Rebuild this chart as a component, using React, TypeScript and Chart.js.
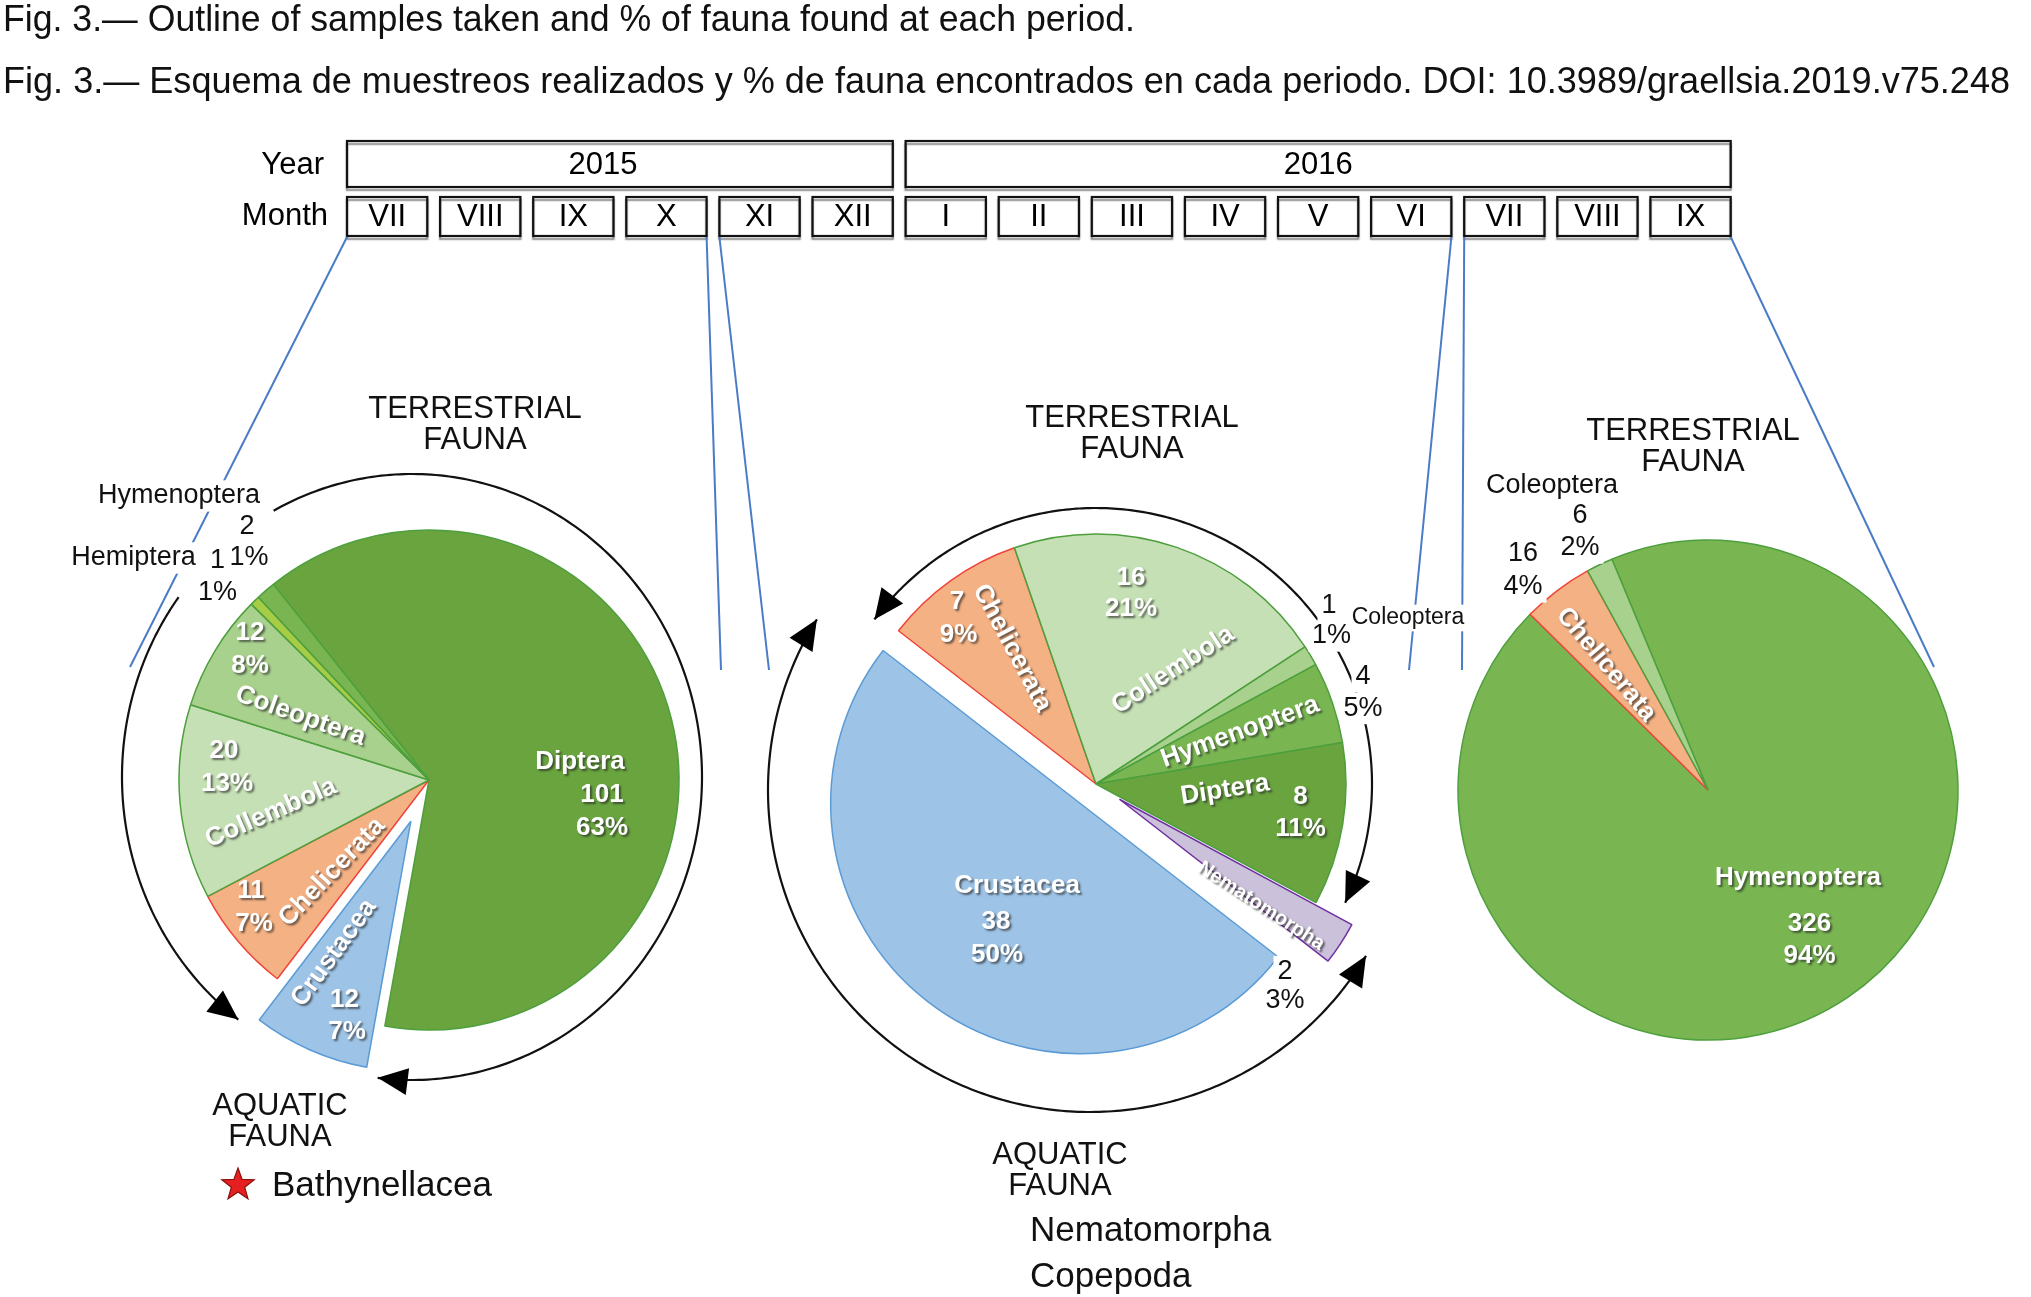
import React, { useEffect, useRef } from 'react';
import { Chart, registerables } from 'chart.js';

Chart.register(...registerables);

const W = 2031;
const H = 1297;
const FONT = '"Liberation Sans", Arial, Helvetica, sans-serif';
const DEG = Math.PI / 180;

// ---------------- data ----------------
const titleEn = 'Fig. 3.— Outline of samples taken and % of fauna found at each period.';
const titleEs = 'Fig. 3.— Esquema de muestreos realizados y % de fauna encontrados en cada periodo. DOI: 10.3989/graellsia.2019.v75.248';

const years = ['2015', '2016'];
const monthsPerYear = [6, 9];
const months = ['VII', 'VIII', 'IX', 'X', 'XI', 'XII', 'I', 'II', 'III', 'IV', 'V', 'VI', 'VII', 'VIII', 'IX'];

// Pie 1 : July 2015 - October 2015
const p1Labels = ['Diptera', 'Crustacea', 'Chelicerata', 'Collembola', 'Coleoptera', 'Hemiptera', 'Hymenoptera'];
const p1Values = [101, 12, 11, 20, 12, 1, 2];
const p1Pcts = ['63%', '7%', '7%', '13%', '8%', '1%', '1%'];

// Pie 2 : November 2015 - June 2016
const p2Labels = ['Chelicerata', 'Collembola', 'Coleoptera', 'Hymenoptera', 'Diptera', 'Nematomorpha', 'Crustacea'];
const p2Values = [7, 16, 1, 4, 8, 2, 38];
const p2Pcts = ['9%', '21%', '1%', '5%', '11%', '3%', '50%'];

// Pie 3 : July 2016 - September 2016
const p3Labels = ['Hymenoptera', 'Chelicerata', 'Coleoptera'];
const p3Values = [326, 16, 6];
const p3Pcts = ['94%', '4%', '2%'];

const terrestrialText = ['TERRESTRIAL', 'FAUNA'];
const aquaticText = ['AQUATIC', 'FAUNA'];
const aquatic2015 = ['Bathynellacea'];
const aquatic2016 = ['Nematomorpha', 'Copepoda'];

// ---------------- styles ----------------
const taxonFill: Record<string, string> = {
  Diptera: '#69a43f',
  Hymenoptera: '#79b652',
  Hemiptera: '#a6cd45',
  Coleoptera: '#a9d18e',
  Collembola: '#c5e0b4',
  Chelicerata: '#f4b183',
  Crustacea: '#9dc3e6',
  Nematomorpha: '#ccc1da',
};
const taxonBorder: Record<string, string> = {
  Diptera: '#4e9f3d',
  Hymenoptera: '#4e9f3d',
  Hemiptera: '#4e9f3d',
  Coleoptera: '#4e9f3d',
  Collembola: '#4e9f3d',
  Chelicerata: '#f0443a',
  Crustacea: '#5b9bd5',
  Nematomorpha: '#7030a0',
};

const R = 250;

type Lbl = [number, 'n' | 'v' | 'p', number, number, number?, number?];

interface PieLayout {
  labels: string[];
  values: number[];
  pcts: string[];
  cx: number;
  cy: number;
  rotation: number;
  explode: number[];
  grow: number[];
  inner: Lbl[];
  outer: Lbl[];
  terrestrial: [number, number];
  aquatic?: [number, number];
  aquaticList?: { items: string[]; dx: number; dy: number; star?: boolean };
  arrows: { cx: number; cy: number; rx: number; ry: number; a0: number; a1: number; h0: boolean; h1: boolean }[];
}

const pies: PieLayout[] = [
  {
    labels: p1Labels, values: p1Values, pcts: p1Pcts,
    cx: 429, cy: 780, rotation: -38.5,
    explode: [0, 45, 0, 0, 0, 0, 0],
    grow: [0, 0, 0, 0, 0, 0, 0],
    inner: [
      [0, 'n', 151, -18], [0, 'v', 173, 15], [0, 'p', 173, 48],
      [1, 'n', -95, 173, -54], [1, 'v', -84.5, 220], [1, 'p', -82, 252],
      [2, 'n', -97, 92, -46], [2, 'v', -178, 111], [2, 'p', -175, 143.5],
      [3, 'n', -158, 33, -23.5], [3, 'v', -205, -29], [3, 'p', -202, 4],
      [4, 'n', -128.5, -64, 19.5], [4, 'v', -179, -147], [4, 'p', -179, -114],
    ],
    outer: [
      [6, 'n', -250, -284], [6, 'v', -182, -253], [6, 'p', -180, -222],
      [5, 'n', -295.6, -222], [5, 'v', -211.4, -219], [5, 'p', -211.4, -187],
    ],
    terrestrial: [46, -371],
    aquatic: [-149, 326],
    aquaticList: { items: aquatic2015, dx: -157, dy: 406, star: true },
    arrows: [
      { cx: -17, cy: -3, rx: 290, ry: 303, a0: -118.5, a1: 96.8, h0: false, h1: true },
      { cx: -17, cy: -3, rx: 290, ry: 303, a0: 216.4, a1: 126.8, h0: false, h1: true },
    ],
  },
  {
    labels: p2Labels, values: p2Values, pcts: p2Pcts,
    cx: 1096, cy: 784, rotation: -52.2,
    explode: [0, 0, 0, 0, 0, 28, 25],
    grow: [0, 0, 0, 0, 0, 14, 0],
    inner: [
      [0, 'v', -139, -182], [0, 'p', -137.5, -149], [0, 'n', -84, -136, 62],
      [1, 'v', 35, -206], [1, 'p', 35, -175], [1, 'n', 77, -114, -33],
      [3, 'n', 144, -52, -20],
      [4, 'n', 129, 6, -9], [4, 'v', 204.5, 12.6], [4, 'p', 204.5, 45],
      [6, 'n', -79, 102], [6, 'v', -100, 138], [6, 'p', -99, 171],
      [5, 'n', 165, 122, 33, 20],
    ],
    outer: [
      [2, 'v', 233, -178], [2, 'p', 235.6, -148], [2, 'n', 312, -166, 0, 23],
      [3, 'v', 267, -107], [3, 'p', 267, -75.5],
      [5, 'v', 189, 187.5], [5, 'p', 189, 217],
    ],
    terrestrial: [36, -366],
    aquatic: [-36, 371],
    aquaticList: { items: aquatic2016, dx: -66, dy: 447 },
    arrows: [
      { cx: 0, cy: 0, rx: 276, ry: 276, a0: -143.4, a1: 25.5, h0: true, h1: true },
      { cx: -6, cy: 6, rx: 322, ry: 322, a0: 212, a1: 31, h0: true, h1: true },
    ],
  },
  {
    labels: p3Labels, values: p3Values, pcts: p3Pcts,
    cx: 1708, cy: 790, rotation: -22.6,
    explode: [0, 0, 0],
    grow: [0, 0, 0],
    inner: [
      [0, 'n', 90, 88], [0, 'v', 101.5, 133.5], [0, 'p', 101.5, 166],
      [1, 'n', -102, -125.5, 50],
    ],
    outer: [
      [1, 'v', -185, -236], [1, 'p', -185, -203],
      [2, 'n', -156, -304], [2, 'v', -128, -274.5], [2, 'p', -128, -242],
    ],
    terrestrial: [-15, -359],
    arrows: [],
  },
];

// connectors: [month index, side, end x, end y]
const connectors: [number, 'l' | 'r', number, number][] = [
  [0, 'l', 130, 667],
  [3, 'r', 721, 670],
  [4, 'l', 769, 670],
  [11, 'r', 1409, 670],
  [12, 'l', 1462, 670],
  [14, 'r', 1934, 667],
];

// ---------------- drawing helpers ----------------
interface TOpt {
  size: number; bold?: boolean; color?: string; align?: CanvasTextAlign;
  baseline?: CanvasTextBaseline; rot?: number; fitW?: number; bg?: boolean; shadow?: boolean;
}
function text(ctx: CanvasRenderingContext2D, s: string, x: number, y: number, o: TOpt) {
  ctx.save();
  ctx.font = `${o.bold ? 'bold ' : ''}${o.size}px ${FONT}`;
  ctx.textAlign = o.align || 'center';
  ctx.textBaseline = o.baseline || 'middle';
  ctx.translate(x, y);
  if (o.rot) ctx.rotate(o.rot * DEG);
  const w = ctx.measureText(s).width;
  if (o.fitW) ctx.scale(o.fitW / w, 1);
  if (o.bg) {
    const left = ctx.textAlign === 'center' ? -w / 2 : ctx.textAlign === 'right' ? -w : 0;
    ctx.fillStyle = '#fff';
    ctx.fillRect(left - 4, -o.size * 0.58, w + 8, o.size * 1.16);
  }
  if (o.shadow) {
    ctx.shadowColor = 'rgba(40,40,40,0.65)';
    ctx.shadowOffsetX = 2;
    ctx.shadowOffsetY = 2;
    ctx.shadowBlur = 2;
  }
  ctx.fillStyle = o.color || '#000';
  ctx.fillText(s, 0, 0);
  ctx.restore();
}

function box(ctx: CanvasRenderingContext2D, x: number, y: number, w: number, h: number) {
  ctx.save();
  ctx.shadowColor = 'rgba(0,0,0,0.45)';
  ctx.shadowOffsetY = 3;
  ctx.shadowBlur = 1.5;
  ctx.strokeStyle = '#111';
  ctx.lineWidth = 2.2;
  ctx.strokeRect(x, y, w, h);
  ctx.restore();
}

function head(ctx: CanvasRenderingContext2D, x: number, y: number, ux: number, uy: number) {
  const len = 30, wid = 27;
  const bx = x - ux * len, by = y - uy * len;
  const px = -uy, py = ux;
  ctx.fillStyle = '#000';
  ctx.beginPath();
  ctx.moveTo(x, y);
  ctx.lineTo(bx + (px * wid) / 2, by + (py * wid) / 2);
  ctx.lineTo(bx - (px * wid) / 2, by - (py * wid) / 2);
  ctx.closePath();
  ctx.fill();
}

function arcArrow(ctx: CanvasRenderingContext2D, cx: number, cy: number, rx: number, ry: number,
  a0d: number, a1d: number, h0: boolean, h1: boolean) {
  const a0 = a0d * DEG, a1 = a1d * DEG;
  ctx.save();
  ctx.strokeStyle = '#111';
  ctx.lineWidth = 2.2;
  ctx.beginPath();
  const N = 240;
  for (let i = 0; i <= N; i++) {
    const t = a0 + ((a1 - a0) * i) / N;
    const x = cx + rx * Math.cos(t), y = cy + ry * Math.sin(t);
    if (i === 0) ctx.moveTo(x, y); else ctx.lineTo(x, y);
  }
  ctx.stroke();
  const sgn = Math.sign(a1 - a0);
  const tang = (t: number, s: number): [number, number] => {
    const dx = -rx * Math.sin(t) * s, dy = ry * Math.cos(t) * s;
    const l = Math.hypot(dx, dy);
    return [dx / l, dy / l];
  };
  if (h1) { const [ux, uy] = tang(a1, sgn); head(ctx, cx + rx * Math.cos(a1), cy + ry * Math.sin(a1), ux, uy); }
  if (h0) { const [ux, uy] = tang(a0, -sgn); head(ctx, cx + rx * Math.cos(a0), cy + ry * Math.sin(a0), ux, uy); }
  ctx.restore();
}

function star(ctx: CanvasRenderingContext2D, x: number, y: number, ro: number, ri: number) {
  ctx.save();
  ctx.beginPath();
  for (let i = 0; i < 10; i++) {
    const r = i % 2 === 0 ? ro : ri;
    const a = -Math.PI / 2 + (i * Math.PI) / 5;
    const px = x + r * Math.cos(a), py = y + r * Math.sin(a);
    if (i === 0) ctx.moveTo(px, py); else ctx.lineTo(px, py);
  }
  ctx.closePath();
  ctx.fillStyle = '#e62020';
  ctx.fill();
  ctx.strokeStyle = '#8a1010';
  ctx.lineWidth = 1.2;
  ctx.stroke();
  ctx.restore();
}

function drawHeader(ctx: CanvasRenderingContext2D) {
  ctx.save();
  ctx.fillStyle = '#fff';
  ctx.fillRect(0, 0, W, H);
  ctx.restore();
  text(ctx, titleEn, 3, 31, { size: 37, align: 'left', baseline: 'alphabetic', fitW: 1132, color: '#111' });
  text(ctx, titleEs, 3, 93, { size: 37, align: 'left', baseline: 'alphabetic', fitW: 2007, color: '#111' });

  text(ctx, 'Year', 324, 165, { size: 31, align: 'right' });
  text(ctx, 'Month', 328, 216, { size: 31, align: 'right' });

  const left0 = 347, pitch = 93.1, bw = 80.3;
  const mTop = 197, mH = 39, yTop = 141, yH = 46;
  months.forEach((m, i) => {
    const x = left0 + i * pitch;
    box(ctx, x, mTop, bw, mH);
    text(ctx, m, x + bw / 2, mTop + mH / 2 + 1, { size: 31 });
  });
  const yearShift = [-17, 0];
  let s = 0;
  years.forEach((y, i) => {
    const x0 = left0 + s * pitch;
    const x1 = left0 + (s + monthsPerYear[i] - 1) * pitch + bw;
    box(ctx, x0, yTop, x1 - x0, yH);
    text(ctx, y, (x0 + x1) / 2 + yearShift[i], yTop + yH / 2 + 1, { size: 31 });
    s += monthsPerYear[i];
  });

  ctx.save();
  ctx.strokeStyle = '#4a7cc6';
  ctx.lineWidth = 2;
  connectors.forEach(([mi, side, ex, ey]) => {
    const x = left0 + mi * pitch + (side === 'r' ? bw : 0);
    ctx.beginPath();
    ctx.moveTo(x, mTop + mH + 1);
    ctx.lineTo(ex, ey);
    ctx.stroke();
  });
  ctx.restore();
}

function makePie(canvas: HTMLCanvasElement, p: PieLayout, withHeader: boolean) {
  const pad = {
    left: Math.max(0, 2 * p.cx - W),
    right: Math.max(0, W - 2 * p.cx),
    top: Math.max(0, 2 * p.cy - H),
    bottom: Math.max(0, H - 2 * p.cy),
  };
  const txt = (kind: string, i: number) => (kind === 'n' ? p.labels[i] : kind === 'v' ? String(p.values[i]) : p.pcts[i]);

  const plugin = {
    id: 'figDecor',
    beforeDraw(chart: any) {
      if (withHeader) drawHeader(chart.ctx);
    },
    afterDatasetsUpdate(chart: any) {
      const meta = chart.getDatasetMeta(0);
      meta.data.forEach((arc: any, i: number) => {
        const d = p.explode[i] || 0;
        if (d) {
          const mid = (arc.startAngle + arc.endAngle) / 2;
          arc.x += Math.cos(mid) * d;
          arc.y += Math.sin(mid) * d;
        }
        if (p.grow[i]) arc.outerRadius += p.grow[i];
      });
    },
    afterDatasetsDraw(chart: any) {
      const ctx = chart.ctx as CanvasRenderingContext2D;
      const ca = chart.chartArea;
      const cx = (ca.left + ca.right) / 2, cy = (ca.top + ca.bottom) / 2;
      p.inner.forEach(([i, k, dx, dy, rot, size]) => {
        text(ctx, txt(k, i), cx + dx, cy + dy, { size: size || 26, bold: true, color: '#fff', rot: rot || 0, shadow: true });
      });
    },
    afterDraw(chart: any) {
      const ctx = chart.ctx as CanvasRenderingContext2D;
      const ca = chart.chartArea;
      const cx = (ca.left + ca.right) / 2, cy = (ca.top + ca.bottom) / 2;
      p.arrows.forEach((a) => arcArrow(ctx, cx + a.cx, cy + a.cy, a.rx, a.ry, a.a0, a.a1, a.h0, a.h1));
      terrestrialText.forEach((t, j) => text(ctx, t, cx + p.terrestrial[0], cy + p.terrestrial[1] + j * 31, { size: 31, color: '#111' }));
      if (p.aquatic) {
        aquaticText.forEach((t, j) => text(ctx, t, cx + p.aquatic![0], cy + p.aquatic![1] + j * 31, { size: 31, color: '#111' }));
      }
      if (p.aquaticList) {
        const L = p.aquaticList;
        L.items.forEach((t, j) => text(ctx, t, cx + L.dx, cy + L.dy + j * 46, { size: 35, align: 'left', color: '#111' }));
        if (L.star) star(ctx, cx + L.dx - 34, cy + L.dy - 1, 17, 7);
      }
      p.outer.forEach(([i, k, dx, dy, rot, size]) => {
        text(ctx, txt(k, i), cx + dx, cy + dy, { size: size || 27, color: '#111', rot: rot || 0, bg: true });
      });
    },
  };

  return new Chart(canvas, {
    type: 'pie',
    data: {
      labels: p.labels,
      datasets: [
        {
          data: p.values,
          backgroundColor: p.labels.map((l) => taxonFill[l]),
          borderColor: p.labels.map((l) => taxonBorder[l]),
          borderWidth: 1.5,
          rotation: p.rotation,
          radius: R,
        } as any,
      ],
    },
    options: {
      responsive: false,
      animation: false,
      events: [],
      layout: { padding: pad },
      plugins: { legend: { display: false }, tooltip: { enabled: false } },
    } as any,
    plugins: [plugin],
  });
}

export default function App() {
  const r1 = useRef<HTMLCanvasElement>(null);
  const r2 = useRef<HTMLCanvasElement>(null);
  const r3 = useRef<HTMLCanvasElement>(null);

  useEffect(() => {
    document.body.style.margin = '0';
    const charts = [
      makePie(r1.current!, pies[0], true),
      makePie(r2.current!, pies[1], false),
      makePie(r3.current!, pies[2], false),
    ];
    return () => charts.forEach((c) => c.destroy());
  }, []);

  const cs: React.CSSProperties = { position: 'absolute', left: 0, top: 0 };
  return (
    <div style={{ position: 'relative', width: W, height: H, background: '#fff', overflow: 'hidden' }}>
      <canvas ref={r1} width={W} height={H} style={cs} />
      <canvas ref={r2} width={W} height={H} style={cs} />
      <canvas ref={r3} width={W} height={H} style={cs} />
    </div>
  );
}
